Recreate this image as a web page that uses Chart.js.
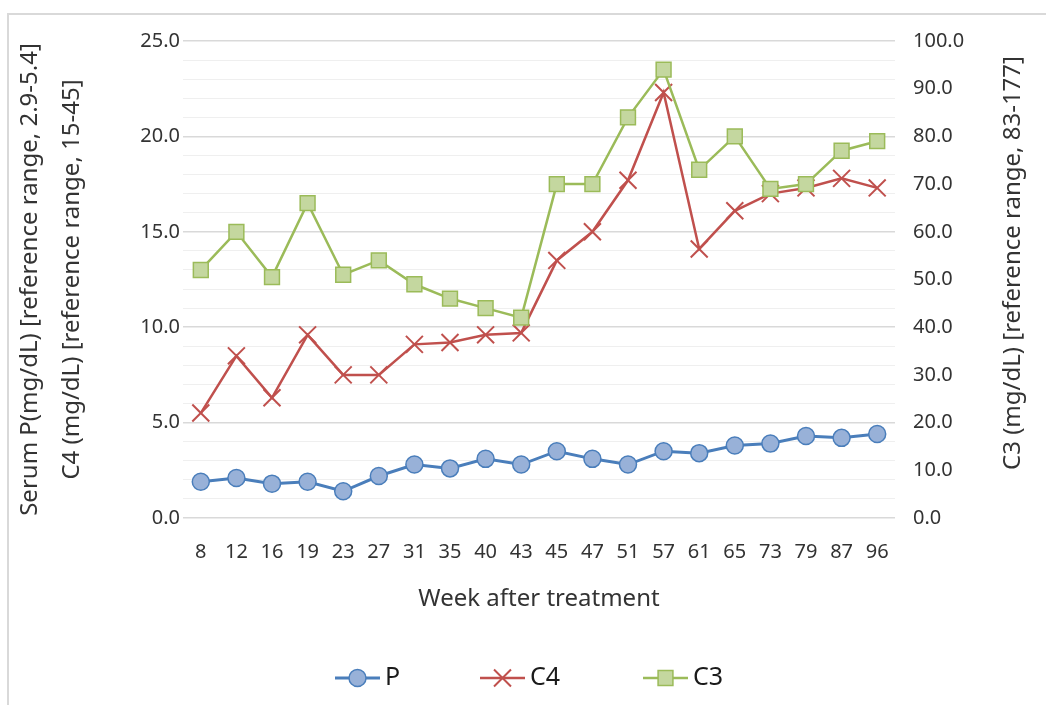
<!DOCTYPE html>
<html><head><meta charset="utf-8">
<script src="https://cdn.jsdelivr.net/npm/chart.js@4/dist/chart.umd.min.js"></script>
<style>
html,body{margin:0;padding:0;background:#fff;overflow:hidden;}
#wrap{position:relative;width:1046px;height:705px;overflow:hidden;}
#frame{position:absolute;left:7px;top:13px;width:1100px;height:800px;border-left:2px solid #d9d9d9;border-top:2px solid #d9d9d9;}
canvas{position:absolute;left:0;top:0;}
</style></head><body>
<div id="wrap"><div id="frame"></div><canvas id="c" width="1046" height="705"></canvas></div>
<script>
const weeks = ['8','12','16','19','23','27','31','35','40','43','45','47','51','57','61','65','73','79','87','96'];
const pValues  = [1.9,2.1,1.8,1.9,1.4,2.2,2.8,2.6,3.1,2.8,3.5,3.1,2.8,3.5,3.4,3.8,3.9,4.3,4.2,4.4];
const c4Values = [5.5,8.5,6.3,9.6,7.5,7.5,9.1,9.2,9.6,9.7,13.5,15.0,17.7,22.3,14.1,16.1,17.0,17.3,17.8,17.3];
const c3Values = [52,60,50.5,66,51,54,49,46,44,42,70,70,84,94,73,80,69,70,77,79];
const leftTitle = ['Serum P(mg/dL) [reference range, 2.9-5.4]', 'C4 (mg/dL) [reference range, 15-45]'];
const rightTitle = 'C3 (mg/dL) [reference range, 83-177]';
const xTitle = 'Week after treatment';
const seriesNames = ['P','C4','C3'];

const FONT = "'Noto Sans', 'Open Sans', sans-serif";
const TXT = '#333333';

const extras = {
  id: 'extras',
  afterDraw(chart) {
    const ctx = chart.ctx;
    // right axis title (reads bottom to top)
    ctx.save();
    ctx.fillStyle = TXT;
    ctx.font = "24px " + FONT;
    ctx.textAlign = 'center';
    ctx.textBaseline = 'middle';
    ctx.translate(1013, 263);
    ctx.rotate(-Math.PI / 2);
    ctx.fillText(rightTitle, 0, 0);
    ctx.restore();
    // legend
    const xs = [335, 480, 643];
    const y = 678;
    chart.data.datasets.forEach((ds, i) => {
      const x0 = xs[i];
      ctx.save();
      ctx.strokeStyle = ds.borderColor;
      ctx.lineWidth = ds.borderWidth;
      ctx.beginPath();
      ctx.moveTo(x0, y); ctx.lineTo(x0 + 45, y);
      ctx.stroke();
      ctx.fillStyle = ds.pointBackgroundColor;
      ctx.strokeStyle = ds.pointBorderColor;
      ctx.lineWidth = ds.pointBorderWidth;
      Chart.helpers.drawPoint(ctx, {pointStyle: ds.pointStyle, radius: ds.pointRadius, borderWidth: ds.pointBorderWidth, rotation: 0}, x0 + 22.5, y);
      ctx.fillStyle = '#1a1a1a';
      ctx.font = "25px " + FONT;
      ctx.textAlign = 'left';
      ctx.textBaseline = 'middle';
      ctx.fillText(ds.label, x0 + 50, y);
      ctx.restore();
    });
  }
};

new Chart(document.getElementById('c'), {
  type: 'line',
  data: {
    labels: weeks,
    datasets: [
      {label: seriesNames[0], data: pValues, yAxisID: 'y', order: 2,
       borderColor: '#4a7ebb', borderWidth: 3, pointStyle: 'circle', pointRadius: 8.5,
       pointBackgroundColor: '#98b1d8', pointBorderColor: '#4a7ebb', pointBorderWidth: 1.5, tension: 0},
      {label: seriesNames[1], data: c4Values, yAxisID: 'y', order: 1,
       borderColor: '#c0504d', borderWidth: 2.5, pointStyle: 'crossRot', pointRadius: 12,
       pointBackgroundColor: '#c0504d', pointBorderColor: '#c0504d', pointBorderWidth: 2, tension: 0},
      {label: seriesNames[2], data: c3Values, yAxisID: 'y1', order: 0,
       borderColor: '#9bbb59', borderWidth: 2.5, pointStyle: 'rect', pointRadius: 10.5,
       pointBackgroundColor: '#c4d79f', pointBorderColor: '#9bbb59', pointBorderWidth: 1.5, tension: 0}
    ]
  },
  options: {
    responsive: false,
    animation: false,
    clip: false,
    layout: {padding: {top: 41, bottom: 77, left: 0, right: 0}},
    plugins: {legend: {display: false}, tooltip: {enabled: false}},
    scales: {
      x: {
        offset: true,
        grid: {display: false, drawTicks: false},
        border: {display: false},
        ticks: {autoSkip: false, maxRotation: 0, padding: 22, color: TXT, font: {family: FONT, size: 20}},
        title: {display: true, text: xTitle, color: TXT, font: {family: FONT, size: 24}, padding: {top: 0, bottom: 14}},
        afterFit(s) { s.height = 110; }
      },
      y: {
        position: 'left', min: 0, max: 25,
        grid: {drawTicks: false,
               color: c => (c.tick && Math.round(c.tick.value) % 5 === 0) ? '#d9d9d9' : '#efefef',
               lineWidth: c => (c.tick && Math.round(c.tick.value) % 5 === 0) ? 1.5 : 1},
        border: {display: false},
        ticks: {stepSize: 1, autoSkip: false, padding: 3, color: TXT, font: {family: FONT, size: 20},
                callback: v => (Math.round(v) % 5 === 0) ? Number(v).toFixed(1) : ''},
        title: {display: true, text: leftTitle, color: TXT, font: {family: FONT, size: 24, lineHeight: 1.75}, padding: {top: 9, bottom: 0}},
        afterFit(s) { s.width = 183; }
      },
      y1: {
        position: 'right', min: 0, max: 100,
        grid: {drawOnChartArea: false, drawTicks: false},
        border: {display: false},
        ticks: {stepSize: 10, autoSkip: false, padding: 18, color: TXT, font: {family: FONT, size: 20},
                callback: v => Number(v).toFixed(1)},
        afterFit(s) { s.width = 151; }
      }
    }
  },
  plugins: [extras]
});
</script>
</body></html>
